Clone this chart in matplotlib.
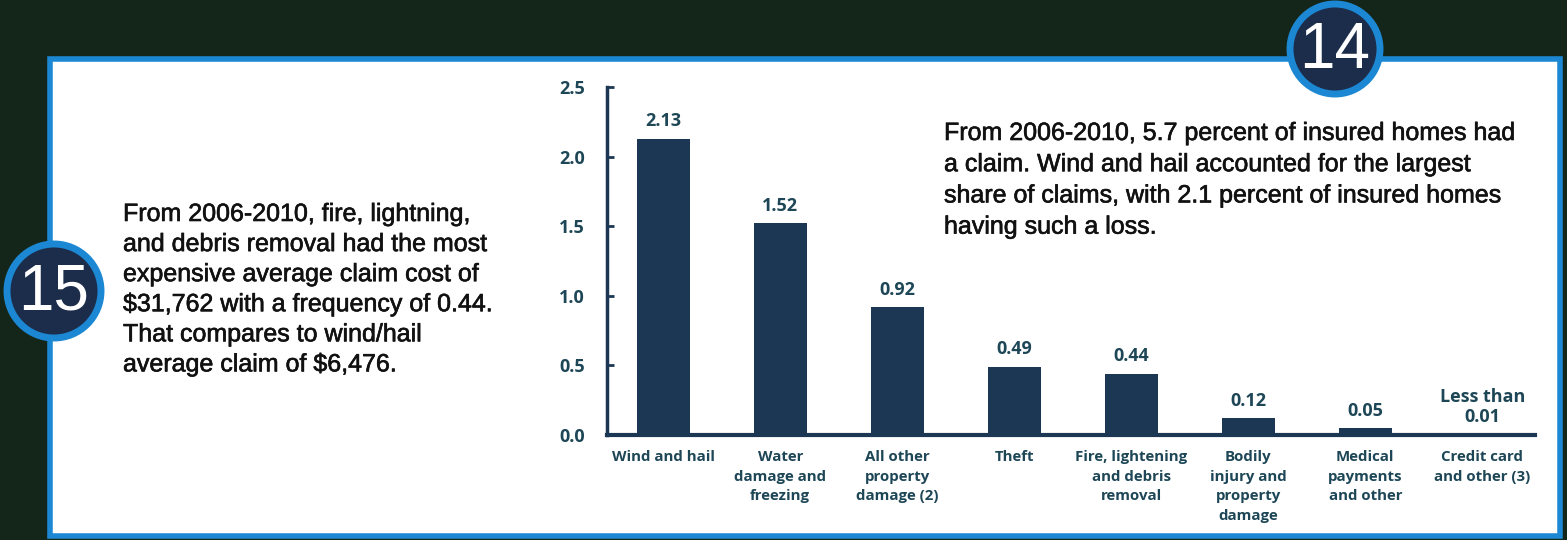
import numpy as np
import matplotlib.pyplot as plt
import matplotlib.patheffects as pe
from matplotlib.patches import Rectangle, Circle

categories = ["Wind and hail", "Water\ndamage and\nfreezing", "All other\nproperty\ndamage (2)",
              "Theft", "Fire, lightening\nand debris\nremoval", "Bodily\ninjury and\nproperty\ndamage",
              "Medical\npayments\nand other", "Credit card\nand other (3)"]
values = [2.13, 1.52, 0.92, 0.49, 0.44, 0.12, 0.05, 0.005]
value_labels = ["2.13", "1.52", "0.92", "0.49", "0.44", "0.12", "0.05", "Less than\n0.01"]
yticks = [0.0, 0.5, 1.0, 1.5, 2.0, 2.5]

left_note = ("From 2006-2010, fire, lightning,\nand debris removal had the most\n"
             "expensive average claim cost of\n$31,762 with a frequency of 0.44.\n"
             "That compares to wind/hail\naverage claim of $6,476.")
right_note = ("From 2006-2010, 5.7 percent of insured homes had\na claim. Wind and hail accounted for the largest\n"
              "share of claims, with 2.1 percent of insured homes\nhaving such a loss.")

W, H = 1567, 540
bar_color = "#1b3753"
text_color = "#1d4656"
blue = "#1c88d4"
bg = "#14261a"

fig = plt.figure(figsize=(W / 100, H / 100), dpi=100)
fig.patch.set_facecolor(bg)

# overlay in pixel coordinates for panel and badges
ov = fig.add_axes([0, 0, 1, 1])
ov.set_xlim(0, W)
ov.set_ylim(H, 0)
ov.axis("off")
ov.add_patch(Rectangle((50, 59), 1510, 477, facecolor="white", edgecolor=blue, linewidth=4))


def badge(cx, cy, r, txt):
    ov.add_patch(Circle((cx, cy), r, facecolor="#1b2d4a", edgecolor=blue, linewidth=5, zorder=3))
    ov.text(cx, cy + 2, txt, ha="center", va="center", color="white", fontsize=46,
            family="Liberation Sans", zorder=4)


badge(1335, 49, 45, "14")
badge(54, 291, 47, "15")

heavy = [pe.withStroke(linewidth=0.45, foreground="#111111")]
ov.text(123, 202, left_note, ha="left", va="top", fontsize=18, family="Liberation Sans",
        color="#111111", linespacing=1.32, path_effects=heavy)
ov.text(944, 121, right_note, ha="left", va="top", fontsize=18, family="Liberation Sans",
        color="#111111", linespacing=1.38, path_effects=heavy)

# bar chart
ax = fig.add_axes([607 / W, 1 - 435 / H, (1535 - 607) / W, (435 - 87) / H])
ax.patch.set_alpha(0)
x = np.arange(len(categories))
ax.bar(x, values, width=0.45, color=bar_color)
for xi, v, lab in zip(x, values, value_labels):
    ax.text(xi, v + 0.06, lab, ha="center", va="bottom", fontsize=13, fontweight="bold",
            color=text_color, family="Open Sans", linespacing=1.15)
ax.set_xlim(-0.48, 7.45)
ax.set_ylim(0, 2.5)
ax.set_yticks(yticks)
ax.set_yticklabels([f"{t:.1f}" for t in yticks])
ax.set_xticks(x)
ax.set_xticklabels(categories, fontsize=10.8, fontweight="bold", color=text_color,
                   family="Open Sans", linespacing=1.5)
ax.tick_params(axis="x", length=0, pad=11)
ax.tick_params(axis="y", direction="in", length=5, width=2, color=bar_color,
               labelsize=13, labelcolor=text_color, pad=16)
for lab in ax.get_yticklabels():
    lab.set_fontweight("bold")
    lab.set_family("Open Sans")
for s in ["top", "right"]:
    ax.spines[s].set_visible(False)
ax.spines["left"].set_color(bar_color)
ax.spines["left"].set_linewidth(2.5)
ax.spines["bottom"].set_color(bar_color)
ax.spines["bottom"].set_linewidth(3)

fig.savefig("out.png", dpi=100, facecolor=bg)
